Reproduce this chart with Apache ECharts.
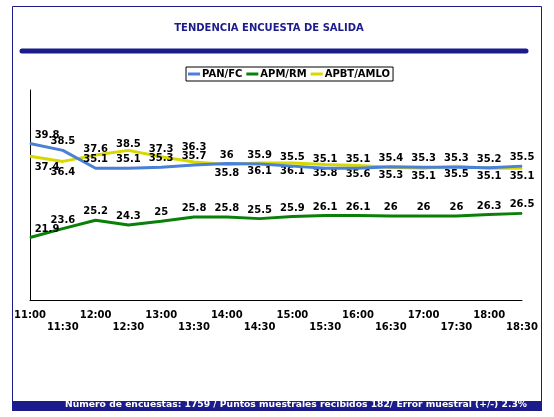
<!DOCTYPE html>
<html>
<head>
<meta charset="utf-8">
<script src="https://cdn.jsdelivr.net/npm/echarts@6/dist/echarts.min.js"></script>
<style>
  html, body { margin: 0; padding: 0; background: #fff; }
  #chart { width: 554px; height: 417px; }
</style>
</head>
<body>
<div id="chart"></div>
<script>
// horas de la encuesta
var horas = ['11:00', '11:30', '12:00', '12:30', '13:00', '13:30', '14:00', '14:30',
  '15:00', '15:30', '16:00', '16:30', '17:00', '17:30', '18:00', '18:30']
var panFc = [39.8, 38.5, 35.1, 35.1, 35.3, 35.7, 36, 35.9, 35.5, 35.1, 35.1, 35.4, 35.3, 35.3, 35.2, 35.5]
var apmRm = [21.9, 23.6, 25.2, 24.3, 25, 25.8, 25.8, 25.5, 25.9, 26.1, 26.1, 26, 26, 26, 26.3, 26.5]
var apbtAmlo = [37.4, 36.4, 37.6, 38.5, 37.3, 36.3, 35.8, 36.1, 36.1, 35.8, 35.6, 35.3, 35.1, 35.5, 35.1, 35.1]

var titulo = 'TENDENCIA ENCUESTA DE SALIDA'
var pie = 'Número de encuestas: 1759 / Puntos muestrales recibidos 182/ Error muestral (+/-) 2.3%'

var navy = '#1b1b8c'
var font = 'DejaVu Sans'

// donde va la etiqueta amarilla (arriba o abajo de la linea) y a que distancia
var ladoAmarillo = ['bottom', 'bottom', 'top', 'top', 'top', 'top', 'bottom', 'bottom',
  'bottom', 'bottom', 'bottom', 'bottom', 'bottom', 'bottom', 'bottom', 'bottom']
var distAmarillo = [6, 6, 0, 0, 2, 9, 3, 3, 3, 3, 3, 3, 3, 3, 3, 3]

var labelBase = {
  show: true,
  color: '#000',
  fontFamily: font,
  fontWeight: 'bold',
  fontSize: 10
}

// la primera etiqueta queda corrida a la derecha, dentro del area
function puntos(arr, extra) {
  return arr.map(function(v, i) {
    var lab = extra ? extra(i) : {}
    if (i === 0) lab.offset = [17, 0]
    return { value: v, label: lab }
  })
}

var chart = echarts.init(document.getElementById('chart'))
chart.setOption({
  animation: false,
  backgroundColor: '#fff',
  title: {
    text: titulo,
    left: 264,
    top: 18,
    textAlign: 'center',
    textStyle: { color: navy, fontFamily: font, fontWeight: 'bold', fontSize: 10 }
  },
  legend: {
    left: 186,
    top: 67,
    data: ['PAN/FC', 'APM/RM', 'APBT/AMLO'],
    icon: 'rect',
    itemWidth: 12,
    itemHeight: 3,
    itemGap: 4,
    padding: [2, 3, 2, 2],
    borderColor: '#000',
    borderWidth: 1,
    textStyle: { color: '#000', fontFamily: font, fontWeight: 'bold', fontSize: 10, padding: [0, 0, 0, -3] }
  },
  grid: {
    left: 30,
    right: 32,
    top: 90,
    bottom: 117
  },
  xAxis: {
    type: 'category',
    boundaryGap: false,
    data: horas,
    axisLine: { lineStyle: { color: '#000', width: 1 } },
    axisTick: { show: false },
    axisLabel: {
      interval: 0,
      margin: 9,
      color: '#000',
      fontFamily: font,
      fontWeight: 'bold',
      fontSize: 10,
      lineHeight: 12,
      formatter: function(v, i) {
        return i % 2 === 1 ? '\n' + v : v
      }
    }
  },
  yAxis: {
    type: 'value',
    min: 10,
    max: 50,
    axisLine: { show: true, lineStyle: { color: '#000', width: 1 } },
    axisTick: { show: false },
    axisLabel: { show: false },
    splitLine: { show: false }
  },
  graphic: [
    {
      type: 'rect',
      shape: { x: 12.5, y: 6.5, width: 529, height: 396 },
      style: { fill: 'none', stroke: navy, lineWidth: 1 },
      silent: true
    },
    {
      type: 'line',
      shape: { x1: 22, y1: 51, x2: 526, y2: 51 },
      style: { stroke: navy, lineWidth: 5, lineCap: 'round' },
      silent: true
    },
    {
      type: 'rect',
      shape: { x: 12, y: 401, width: 530, height: 10 },
      style: { fill: navy },
      silent: true
    },
    {
      type: 'text',
      right: 27,
      top: 400,
      style: { text: pie, fill: '#fff', font: 'bold 9.2px "DejaVu Sans"' },
      silent: true
    }
  ],
  series: [
    {
      name: 'PAN/FC',
      type: 'line',
      z: 4,
      data: puntos(panFc),
      symbol: 'circle',
      symbolSize: 1,
      color: '#4a80d6',
      lineStyle: { color: '#4a80d6', width: 3 },
      label: Object.assign({ position: 'top', distance: 3 }, labelBase)
    },
    {
      name: 'APM/RM',
      type: 'line',
      z: 3,
      data: puntos(apmRm),
      symbol: 'circle',
      symbolSize: 1,
      color: '#0a800a',
      lineStyle: { color: '#0a800a', width: 3 },
      label: Object.assign({ position: 'top', distance: 3 }, labelBase)
    },
    {
      name: 'APBT/AMLO',
      type: 'line',
      z: 2,
      data: puntos(apbtAmlo, function(i) {
        return { position: ladoAmarillo[i], distance: distAmarillo[i] }
      }),
      symbol: 'circle',
      symbolSize: 1,
      color: '#d8d800',
      lineStyle: { color: '#d8d800', width: 3 },
      label: labelBase
    }
  ]
})
</script>
</body>
</html>
